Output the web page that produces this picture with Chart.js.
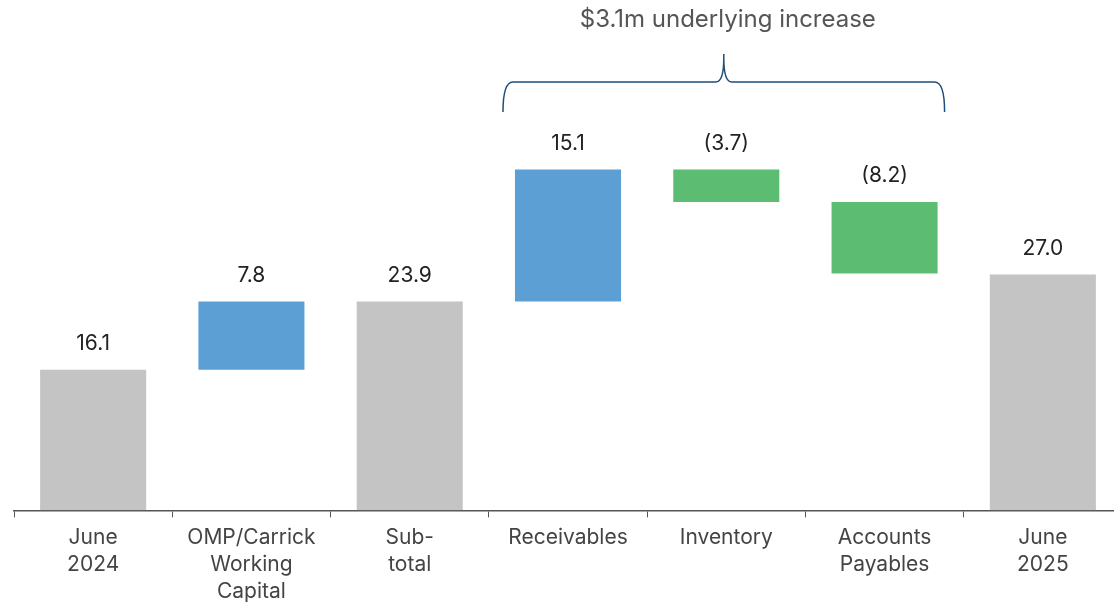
<!DOCTYPE html>
<html>
<head>
<meta charset="utf-8">
<script src="https://cdn.jsdelivr.net/npm/chart.js@4.4.1/dist/chart.umd.min.js"></script>
<style>
  html, body { margin: 0; padding: 0; background: #fff; overflow: hidden; }
  #wrap { position: relative; width: 1124px; height: 612px; }
</style>
</head>
<body>
<div id="wrap"><canvas id="c"></canvas></div>
<script>
// ---- data ----
const categories = [["June","2024"],["OMP/Carrick","Working","Capital"],["Sub-","total"],["Receivables"],["Inventory"],["Accounts","Payables"],["June","2025"]];
const values = [16.1, 7.8, 23.9, 15.1, -3.7, -8.2, 27.0];
const kinds = ["total","delta","total","delta","delta","delta","total"];
const bracketTitle = "$3.1m underlying increase";
const bracketFrom = 3, bracketTo = 5;

// ---- build floating ranges ----
let running = 0;
const ranges = values.map((v, i) => {
  if (kinds[i] === "total") { running = v; return [0, v]; }
  const s = running; running = +(running + v).toFixed(2);
  return [s, running];
});
const colors = values.map((v, i) => kinds[i] === "total" ? "#c4c4c4" : (v >= 0 ? "#5b9fd5" : "#5cbd72"));
const fmt = v => v < 0 ? "(" + Math.abs(v).toFixed(1) + ")" : v.toFixed(1);

const FONT = "Inter, 'Noto Sans', sans-serif";

const overlay = {
  id: "overlay",
  afterDatasetsDraw(chart) {
    const ctx = chart.ctx;
    const meta = chart.getDatasetMeta(0);
    // value labels
    ctx.save();
    ctx.font = "21px " + FONT;
    ctx.fillStyle = "#222";
    ctx.textAlign = "center";
    ctx.textBaseline = "middle";
    meta.data.forEach((bar, i) => {
      const top = Math.min(bar.y, bar.base);
      ctx.fillText(fmt(values[i]), bar.x, top - 26);
    });
    ctx.restore();

    // bracket
    const b1 = meta.data[bracketFrom], b2 = meta.data[bracketTo];
    const x1 = b1.x - b1.width / 2 - 12;
    const x2 = b2.x + b2.width / 2 + 7;
    const xm = (x1 + x2) / 2;
    const yEnd = 112, yH = 82, yTip = 54, r = 10;
    ctx.save();
    ctx.strokeStyle = "#1f4e79";
    ctx.lineWidth = 1.5;
    ctx.beginPath();
    ctx.moveTo(x1, yEnd);
    ctx.quadraticCurveTo(x1, yH, x1 + r, yH);
    ctx.lineTo(xm - 8, yH);
    ctx.quadraticCurveTo(xm, yH, xm, yTip + 4);
    ctx.lineTo(xm, yTip);
    ctx.moveTo(xm, yTip + 4);
    ctx.quadraticCurveTo(xm, yH, xm + 8, yH);
    ctx.lineTo(x2 - r, yH);
    ctx.quadraticCurveTo(x2, yH, x2, yEnd);
    ctx.stroke();
    ctx.font = "24px " + FONT;
    ctx.fillStyle = "#555";
    ctx.textAlign = "center";
    ctx.textBaseline = "middle";
    ctx.fillText(bracketTitle, xm + 4, 20);
    ctx.restore();
  }
};

new Chart(document.getElementById("c"), {
  type: "bar",
  data: {
    labels: categories,
    datasets: [{
      data: ranges,
      backgroundColor: colors,
      borderWidth: 0,
      barPercentage: 0.67,
      categoryPercentage: 1.0
    }]
  },
  options: {
    responsive: true,
    maintainAspectRatio: false,
    animation: false,
    layout: { padding: { left: 14, right: 2, top: 21, bottom: 0 } },
    plugins: { legend: { display: false }, tooltip: { enabled: false }, title: { display: false } },
    scales: {
      x: {
        grid: { display: true, drawOnChartArea: false, drawTicks: true, tickLength: 7, color: "#555", offset: true },
        border: { display: true, color: "#555", width: 1.5 },
        ticks: { color: "#444", font: { family: FONT, size: 21, lineHeight: 1.28 }, padding: 7, maxRotation: 0, autoSkip: false },
      },
      y: {
        display: false,
        min: 0,
        max: 56
      }
    }
  },
  plugins: [overlay]
});
</script>
</body>
</html>
